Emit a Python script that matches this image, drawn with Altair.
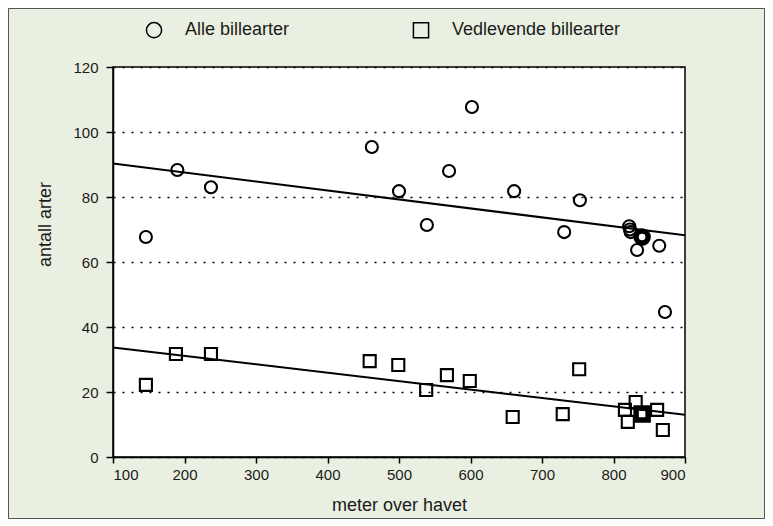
import altair as alt
import pandas as pd

# ---- data ----
series_names = ["Alle billearter", "Vedlevende billearter"]

x_ticks = [100, 200, 300, 400, 500, 600, 700, 800, 900]
y_ticks = [0, 20, 40, 60, 80, 100, 120]

# all beetle species (circles)
all_x = [146, 190, 237, 462, 500, 539, 570, 602, 661, 731, 753, 822, 823, 824, 833, 840, 864, 872]
all_y = [67.7, 88.3, 83.0, 95.4, 81.8, 71.4, 88.0, 107.7, 81.8, 69.2, 79.0, 71.0, 70.0, 69.2, 63.7, 67.7, 65.0, 44.6]
all_overlap = [1, 1, 1, 1, 1, 1, 1, 1, 1, 1, 1, 1, 1, 1, 1, 3, 1, 1]

# wood-living beetle species (squares)
wood_x = [146, 188, 237, 459, 499, 538, 567, 599, 659, 729, 752, 816, 820, 831, 840, 861, 869]
wood_y = [22.2, 31.7, 31.7, 29.5, 28.3, 20.6, 25.2, 23.4, 12.3, 13.2, 27.0, 14.5, 10.8, 16.9, 13.2, 14.5, 8.3]
wood_overlap = [1, 1, 1, 1, 1, 1, 1, 1, 1, 1, 1, 1, 1, 1, 3, 1, 1]

# fitted trend lines (end points)
trend_x = [100, 900]
trend_all = [90.3, 68.2]
trend_wood = [33.7, 13.0]

# ---- tables ----
points = pd.concat([
    pd.DataFrame({"x": all_x, "y": all_y, "overlap": all_overlap, "serie": series_names[0]}),
    pd.DataFrame({"x": wood_x, "y": wood_y, "overlap": wood_overlap, "serie": series_names[1]}),
], ignore_index=True)

trends = pd.concat([
    pd.DataFrame({"x": trend_x, "y": trend_all, "serie": series_names[0]}),
    pd.DataFrame({"x": trend_x, "y": trend_wood, "serie": series_names[1]}),
], ignore_index=True)

FONT = "Liberation Sans"
W, H = 572, 390

x_enc = alt.X("x:Q", scale=alt.Scale(domain=[100, 900], nice=False),
              axis=alt.Axis(values=x_ticks, title="meter over havet", grid=False,
                            tickSize=6, labelPadding=4, titleX=W / 2, titleY=48,
                            titleBaseline="middle"))
y_enc = alt.Y("y:Q", scale=alt.Scale(domain=[0, 120], nice=False),
              axis=alt.Axis(values=y_ticks, title="antall arter", gridDash=[2, 7],
                            grid=True, tickSize=7, labelPadding=8,
                            titleAngle=270, titleX=-68, titleY=157,
                            titleAlign="center", titleBaseline="middle"))

lines = alt.Chart(trends).mark_line(color="black", strokeWidth=2).encode(
    x=x_enc, y=y_enc, detail="serie:N")

pts = alt.Chart(points).mark_point(filled=False, color="black", opacity=1, size=145).encode(
    x="x:Q", y="y:Q",
    shape=alt.Shape("serie:N", scale=alt.Scale(domain=series_names, range=["circle", "square"]),
                    legend=alt.Legend(title=None, orient="none", legendX=32, legendY=-46,
                                      direction="horizontal")),
    strokeWidth=alt.StrokeWidth("overlap:Q", scale=alt.Scale(domain=[1, 3], range=[2.1, 5.5]),
                                legend=None),
    order=alt.Order("overlap:Q"),
)

frame = alt.Chart(pd.DataFrame({"k": [0]})).mark_rect(
    fillOpacity=0, stroke="#555555", strokeWidth=1).encode(
    x=alt.value(-104.5), x2=alt.value(W + 79.5), y=alt.value(-58.5), y2=alt.value(H + 61.5))

chart = alt.layer(lines, pts, frame).properties(
    width=W, height=H, autosize="none",
    padding={"left": 105, "right": 80, "top": 59, "bottom": 62},
).configure(background="#eaf0e1", font=FONT).configure_view(
    fill="white", stroke="black", strokeWidth=1.5
).configure_axis(
    domainColor="black", domainWidth=1.5, tickColor="black", tickWidth=1.5,
    labelFont=FONT, labelFontSize=15, labelColor="#1a1a1a",
    titleFont=FONT, titleFontSize=18, titleFontWeight="normal", titleColor="#1a1a1a",
    gridColor="black", gridWidth=1.5, gridOpacity=1,
).configure_legend(
    labelFont=FONT, labelFontSize=18, labelColor="#1a1a1a", labelOffset=22,
    columnPadding=120, symbolSize=230, symbolStrokeWidth=1.5, symbolStrokeColor="black",
    symbolFillColor="transparent", symbolType="circle", padding=0, labelLimit=300,
)

chart.save("out.html", embed_options={"renderer": "svg", "actions": False})
